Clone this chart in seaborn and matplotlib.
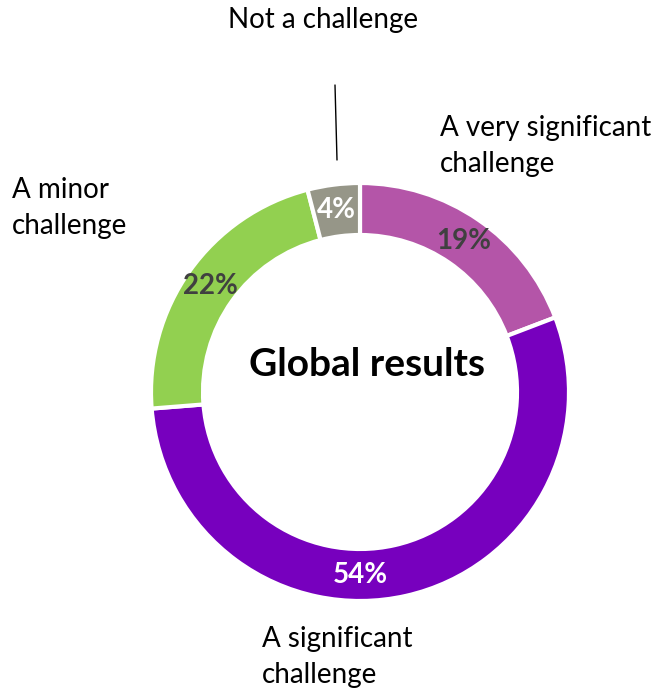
import matplotlib
matplotlib.use("Agg")
import matplotlib.pyplot as plt
import seaborn as sns
import numpy as np

sns.set_theme(style="white")
plt.rcParams['font.family'] = ['Lato', 'DejaVu Sans']

categories = ["A very significant\nchallenge", "A significant\nchallenge", "A minor\nchallenge", "Not a challenge"]
values = [19, 54, 22, 4]
pct_labels = ["19%", "54%", "22%", "4%"]
colors = ["#B455A8", "#7700BE", "#92D050", "#969688"]
pct_colors = ["#404040", "white", "#404040", "white"]

W, H = 666, 693
fig = plt.figure(figsize=(W / 100, H / 100), dpi=100)
ax = fig.add_axes([0, 0, 1, 1])

cx, cy, R = 360, H - 392, 209
ax.pie(values, colors=colors, startangle=90, counterclock=False,
       center=(cx, cy), radius=R,
       wedgeprops=dict(width=52, edgecolor="white", linewidth=3))
ax.set_xlim(0, W)
ax.set_ylim(0, H)
ax.set_aspect("equal")
ax.axis("off")

# percentage labels
total = sum(values)
cum = np.cumsum([0] + values[:-1])
mids = [(c + v / 2) / total * 360 for c, v in zip(cum, values)]
mids[1] = 180  # label moved to bottom in reference
rl = R - 26
for ang, lab, col in zip(mids, pct_labels, pct_colors):
    a = np.deg2rad(ang)
    ax.text(cx + rl * np.sin(a), cy + rl * np.cos(a), lab, color=col,
            fontsize=20, fontweight="bold", ha="center", va="center")

# category labels
lab_fs = 20
ls = 1.45
ax.text(440, H - 146, categories[0], fontsize=lab_fs, ha="left", va="center",
        color="black", linespacing=ls)
ax.text(262, H - 657, categories[1], fontsize=lab_fs, ha="left", va="center",
        color="black", linespacing=ls)
ax.text(12, H - 208, categories[2], fontsize=lab_fs, ha="left", va="center",
        color="black", linespacing=ls)
ax.text(323, H - 20, categories[3], fontsize=lab_fs, ha="center", va="center",
        color="black")
ax.plot([335, 337], [H - 85, H - 160], color="black", linewidth=1)

ax.text(367, H - 365, "Global results", fontsize=28, fontweight="bold",
        ha="center", va="center", color="black")

fig.savefig("out.png", dpi=100)
